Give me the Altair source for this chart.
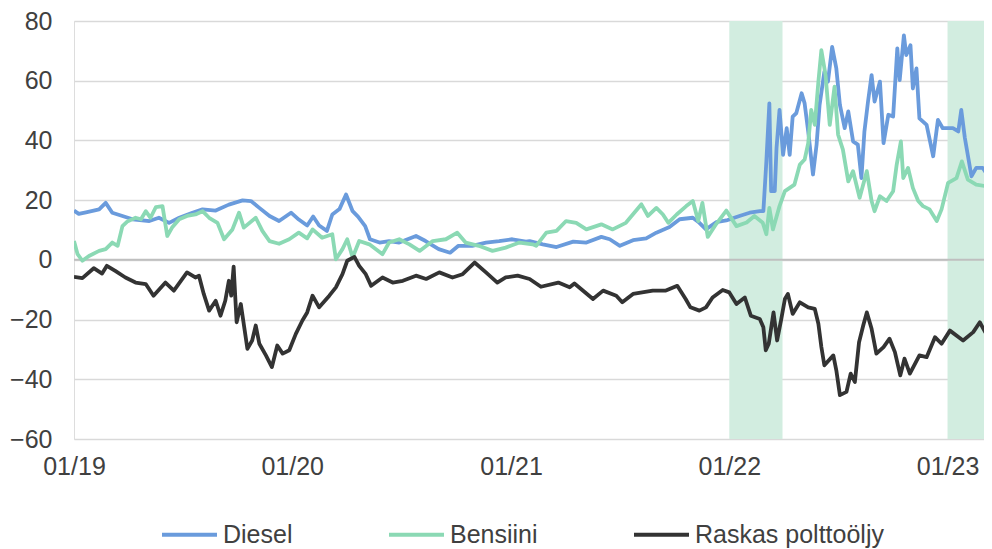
import altair as alt
import pandas as pd

# ---------------- data ----------------
diesel_dates = [
    "2019-01-01", "2019-01-09", "2019-01-21", "2019-02-12", "2019-02-23", "2019-03-06", "2019-03-23",
    "2019-04-09", "2019-05-07", "2019-05-23", "2019-06-09", "2019-06-26", "2019-07-18", "2019-08-04",
    "2019-08-26", "2019-09-17", "2019-10-10", "2019-10-24", "2019-11-07", "2019-11-24", "2019-12-10",
    "2019-12-30", "2020-01-12", "2020-01-26", "2020-02-05", "2020-02-15", "2020-02-28", "2020-03-08",
    "2020-03-20", "2020-03-31", "2020-04-11", "2020-04-20", "2020-05-02", "2020-05-10", "2020-05-26",
    "2020-06-11", "2020-06-28", "2020-07-26", "2020-08-11", "2020-09-02", "2020-09-21", "2020-10-05",
    "2020-10-28", "2020-11-20", "2020-12-12", "2021-01-03", "2021-01-26", "2021-02-01", "2021-02-23",
    "2021-03-18", "2021-04-15", "2021-05-07", "2021-06-01", "2021-06-15", "2021-07-02", "2021-07-24",
    "2021-08-15", "2021-09-01", "2021-09-23", "2021-10-10", "2021-11-01", "2021-11-12", "2021-11-23",
    "2021-12-10", "2021-12-27", "2022-01-18", "2022-02-04", "2022-02-21", "2022-02-27", "2022-03-04",
    "2022-03-09", "2022-03-12", "2022-03-18", "2022-03-21", "2022-03-26", "2022-04-01", "2022-04-07",
    "2022-04-12", "2022-04-17", "2022-04-23", "2022-05-02", "2022-05-07", "2022-05-13", "2022-05-21",
    "2022-05-27", "2022-06-01", "2022-06-09", "2022-06-15", "2022-06-22", "2022-06-29", "2022-07-05",
    "2022-07-13", "2022-07-19", "2022-07-27", "2022-08-04", "2022-08-10", "2022-08-15", "2022-08-21",
    "2022-08-27", "2022-09-01", "2022-09-10", "2022-09-16", "2022-09-24", "2022-10-02", "2022-10-09",
    "2022-10-13", "2022-10-20", "2022-10-24", "2022-10-31", "2022-11-04", "2022-11-10", "2022-11-15",
    "2022-11-27", "2022-12-08", "2022-12-16", "2022-12-24", "2023-01-10", "2023-01-19", "2023-01-24",
    "2023-01-30", "2023-02-10", "2023-02-18", "2023-03-01", "2023-03-10", "2023-03-16",
]
diesel_values = [
    16.5, 15.4, 15.9, 16.9, 19.1, 15.8, 14.7,
    13.6, 13.0, 14.1, 12.4, 14.1, 15.8, 16.9,
    16.5, 18.5, 19.9, 19.7, 17.4, 14.7, 13.0,
    15.8, 13.5, 11.5, 14.5, 11.5, 9.7, 15.2,
    17.0, 21.9, 16.3, 14.5, 11.3, 6.9, 5.8,
    6.3, 5.8, 8.0, 6.3, 3.6, 2.4, 4.7,
    4.7, 5.8, 6.3, 6.9, 6.1, 6.3, 5.2,
    4.3, 6.1, 5.8, 7.7, 6.9, 4.7, 6.6,
    7.2, 9.1, 11.0, 13.6, 14.1, 12.4, 10.2,
    12.6, 13.2, 14.7, 15.8, 16.3, 16.3, 33.0,
    52.4, 23.0, 23.0, 37.4, 50.2, 35.2, 44.1,
    35.2, 48.0, 49.1, 55.8, 52.4, 43.0, 28.6,
    38.6, 51.9, 63.0, 59.7, 71.3, 64.1, 51.9,
    44.1, 49.7, 39.7, 38.6, 27.4, 43.0, 53.0,
    61.9, 53.0, 59.7, 39.1, 48.6, 48.0, 70.8,
    60.2, 75.2, 68.6, 71.9, 57.4, 64.1, 47.4,
    45.2, 34.7, 46.9, 44.1, 44.1, 43.0, 50.2,
    40.8, 28.0, 30.8, 30.8, 28.0, 32.0,
]

bensiini_dates = [
    "2019-01-01", "2019-01-07", "2019-01-15", "2019-01-26", "2019-02-12", "2019-02-23", "2019-03-06",
    "2019-03-15", "2019-03-23", "2019-03-31", "2019-04-14", "2019-04-23", "2019-05-01", "2019-05-09",
    "2019-05-18", "2019-05-29", "2019-06-06", "2019-06-14", "2019-06-26", "2019-07-09", "2019-07-23",
    "2019-08-04", "2019-08-15", "2019-08-29", "2019-09-09", "2019-09-23", "2019-10-04", "2019-10-12",
    "2019-11-01", "2019-11-12", "2019-11-24", "2019-12-10", "2019-12-27", "2020-01-12", "2020-01-26",
    "2020-02-04", "2020-02-20", "2020-03-08", "2020-03-14", "2020-03-25", "2020-04-02", "2020-04-11",
    "2020-04-22", "2020-05-09", "2020-05-31", "2020-06-11", "2020-06-28", "2020-07-15", "2020-08-01",
    "2020-08-23", "2020-09-14", "2020-10-03", "2020-10-17", "2020-11-08", "2020-12-01", "2020-12-23",
    "2021-01-15", "2021-02-06", "2021-02-12", "2021-03-01", "2021-03-18", "2021-04-03", "2021-04-20",
    "2021-05-07", "2021-06-01", "2021-06-20", "2021-07-12", "2021-08-07", "2021-08-18", "2021-09-01",
    "2021-09-12", "2021-09-21", "2021-10-05", "2021-10-21", "2021-11-01", "2021-11-10", "2021-11-17",
    "2021-11-26", "2021-12-10", "2021-12-27", "2022-01-13", "2022-01-30", "2022-02-12", "2022-02-26",
    "2022-03-04", "2022-03-09", "2022-03-15", "2022-03-26", "2022-04-04", "2022-04-20", "2022-04-29",
    "2022-05-07", "2022-05-13", "2022-05-18", "2022-05-24", "2022-05-30", "2022-06-04", "2022-06-11",
    "2022-06-18", "2022-06-26", "2022-07-02", "2022-07-10", "2022-07-19", "2022-07-27", "2022-08-07",
    "2022-08-19", "2022-08-27", "2022-09-01", "2022-09-10", "2022-09-21", "2022-10-02", "2022-10-08",
    "2022-10-15", "2022-10-19", "2022-10-27", "2022-11-04", "2022-11-13", "2022-11-21", "2022-12-02",
    "2022-12-14", "2022-12-22", "2023-01-02", "2023-01-16", "2023-01-25", "2023-02-04", "2023-02-18",
    "2023-03-05", "2023-03-16",
]
bensiini_values = [
    6.3, 1.9, -0.3, 1.3, 3.0, 3.6, 5.8,
    4.7, 11.3, 12.8, 14.1, 13.6, 16.3, 14.1,
    17.7, 18.0, 8.0, 10.8, 13.6, 14.7, 15.2,
    16.3, 14.1, 12.4, 6.9, 10.2, 15.8, 10.8,
    14.1, 9.7, 6.3, 5.4, 6.9, 9.1, 7.2,
    10.2, 7.4, 8.6, 0.2, 3.6, 6.9, 0.8,
    6.3, 5.2, 1.9, 5.8, 6.9, 5.2, 3.0,
    6.3, 6.9, 9.1, 5.8, 4.7, 3.0, 4.1,
    5.8, 5.2, 4.7, 9.1, 9.7, 13.0, 12.4,
    10.2, 11.9, 10.2, 12.4, 18.6, 14.7, 17.4,
    15.2, 12.4, 15.2, 18.0, 19.7, 13.0, 19.1,
    7.7, 12.0, 16.5, 11.3, 12.5, 14.7, 12.4,
    8.6, 17.4, 10.2, 18.0, 23.0, 25.2, 31.9,
    33.6, 39.1, 50.2, 45.2, 59.7, 70.2, 61.9,
    45.2, 58.0, 41.9, 36.9, 26.3, 29.7, 20.8,
    29.7, 19.7, 16.3, 21.3, 19.7, 23.0, 31.9,
    39.7, 27.4, 30.8, 24.1, 19.7, 18.0, 16.9,
    13.0, 16.9, 25.8, 27.4, 33.0, 26.9, 25.2,
    24.7, 27.4,
]

raskas_dates = [
    "2019-01-01", "2019-01-15", "2019-02-03", "2019-02-17", "2019-02-25", "2019-03-11", "2019-03-28",
    "2019-04-14", "2019-05-01", "2019-05-14", "2019-06-03", "2019-06-17", "2019-07-09", "2019-07-23",
    "2019-07-29", "2019-08-06", "2019-08-15", "2019-08-26", "2019-09-03", "2019-09-11", "2019-09-17",
    "2019-09-21", "2019-09-25", "2019-09-30", "2019-10-07", "2019-10-18", "2019-10-26", "2019-11-01",
    "2019-11-07", "2019-11-18", "2019-11-28", "2019-12-07", "2019-12-16", "2019-12-27", "2020-01-07",
    "2020-01-18", "2020-01-26", "2020-02-04", "2020-02-15", "2020-03-03", "2020-03-14", "2020-03-25",
    "2020-04-02", "2020-04-14", "2020-04-22", "2020-05-03", "2020-05-12", "2020-05-31", "2020-06-17",
    "2020-07-04", "2020-07-26", "2020-08-12", "2020-09-03", "2020-09-25", "2020-10-12", "2020-11-01",
    "2020-11-20", "2020-12-09", "2020-12-23", "2021-01-12", "2021-02-01", "2021-02-20", "2021-03-21",
    "2021-04-09", "2021-04-17", "2021-05-18", "2021-06-04", "2021-06-26", "2021-07-06", "2021-07-24",
    "2021-08-26", "2021-09-17", "2021-10-06", "2021-10-20", "2021-10-28", "2021-11-12", "2021-11-23",
    "2021-12-04", "2021-12-21", "2022-01-01", "2022-01-13", "2022-01-27", "2022-02-06", "2022-02-21",
    "2022-02-27", "2022-03-03", "2022-03-08", "2022-03-16", "2022-03-22", "2022-03-29", "2022-04-04",
    "2022-04-09", "2022-04-17", "2022-04-29", "2022-05-13", "2022-05-24", "2022-05-30", "2022-06-04",
    "2022-06-09", "2022-06-24", "2022-06-29", "2022-07-05", "2022-07-16", "2022-07-23", "2022-07-30",
    "2022-08-06", "2022-08-13", "2022-08-19", "2022-08-27", "2022-09-04", "2022-09-16", "2022-09-26",
    "2022-10-05", "2022-10-14", "2022-10-21", "2022-10-30", "2022-11-15", "2022-11-27", "2022-12-11",
    "2022-12-22", "2023-01-05", "2023-01-27", "2023-02-13", "2023-02-24", "2023-03-05", "2023-03-16",
]
raskas_values = [
    -5.7, -6.1, -2.8, -4.6, -2.0, -3.7, -5.9,
    -7.6, -8.1, -12.0, -7.6, -10.3, -4.2, -5.9,
    -5.3, -11.4, -17.0, -13.7, -18.7, -13.7, -7.0,
    -12.0, -2.3, -20.9, -14.8, -29.8, -27.0, -22.0,
    -28.1, -32.0, -35.9, -28.7, -31.4, -30.3, -24.8,
    -20.3, -17.6, -12.0, -15.9, -12.0, -9.2, -4.8,
    -0.3, 1.0, -2.0, -4.8, -8.7, -5.9, -7.6,
    -7.0, -5.3, -6.4, -4.2, -5.9, -4.8, -0.9,
    -4.2, -7.6, -5.9, -5.3, -6.4, -9.0, -7.6,
    -9.2, -7.9, -13.1, -10.3, -12.0, -14.2, -11.4,
    -10.3, -10.3, -8.7, -13.1, -15.9, -17.0, -15.9,
    -12.6, -10.1, -10.9, -14.8, -12.6, -18.7, -19.8,
    -22.6, -30.3, -28.1, -17.6, -27.0, -19.8, -13.1,
    -11.4, -18.1, -14.2, -15.9, -16.4, -21.4, -29.2,
    -35.3, -32.0, -37.0, -45.3, -44.2, -38.1, -40.9,
    -27.6, -22.0, -17.6, -23.1, -31.4, -29.2, -26.4,
    -30.9, -38.7, -33.1, -38.1, -32.0, -32.6, -25.9,
    -28.1, -23.7, -27.0, -24.2, -20.9, -24.2, -18.1,
]

series_names = ["Diesel", "Bensiini", "Raskas polttoöljy"]
series_colors = ["#6A9BDC", "#8BD9B4", "#333333"]

shade_start = ["2022-01-01", "2023-01-01"]
shade_end = ["2022-03-31", "2023-03-16"]

x_start, x_end = "2019-01-01", "2023-03-03"
y_min, y_max = -60, 80
y_ticks = [-60, -40, -20, 0, 20, 40, 60, 80]
x_tick_years = [2019, 2020, 2021, 2022, 2023]

# ---------------- build tables ----------------
frames = []
for name, d, v in [
    (series_names[0], diesel_dates, diesel_values),
    (series_names[1], bensiini_dates, bensiini_values),
    (series_names[2], raskas_dates, raskas_values),
]:
    frames.append(pd.DataFrame({"date": d, "value": v, "series": name,
                                "order": series_names.index(name)}))
lines_df = pd.concat(frames, ignore_index=True)

shade_df = pd.DataFrame({"start": shade_start, "end": shade_end,
                         "lo": [y_min] * 2, "hi": [y_max] * 2})
zero_df = pd.DataFrame({"y": [0]})

FONT = "Liberation Sans"
TEXT = "#404040"

x_scale = alt.Scale(domain=[x_start, x_end], nice=False)
y_scale = alt.Scale(domain=[y_min, y_max], nice=False)

x_axis = alt.Axis(
    values=[alt.DateTime(year=yr, month=1, date=1) for yr in x_tick_years],
    format="%m/%y", title=None, grid=False, ticks=False, domain=False,
    labelFontSize=25, labelColor=TEXT, labelFont=FONT, labelPadding=15,
    labelOverlap=False, labelFlush=False,
)
y_axis = alt.Axis(
    values=y_ticks, title=None, grid=True, gridColor="#D9D9D9", gridWidth=1.3,
    ticks=False, domain=False, labelFontSize=25, labelColor=TEXT, labelFont=FONT,
    labelPadding=22,
)

shade = alt.Chart(shade_df).mark_rect(color="#D2EDE0", clip=True).encode(
    x=alt.X("start:T", scale=x_scale, axis=x_axis),
    x2="end:T",
    y=alt.Y("lo:Q", scale=y_scale, axis=y_axis),
    y2="hi:Q",
)

zero = alt.Chart(zero_df).mark_rule(color="#BFBFBF", strokeWidth=2).encode(
    y=alt.Y("y:Q", scale=y_scale)
)

lines = alt.Chart(lines_df).mark_line(strokeWidth=3.8, strokeJoin="round", clip=True).encode(
    x=alt.X("date:T", scale=x_scale),
    y=alt.Y("value:Q", scale=y_scale),
    color=alt.Color(
        "series:N",
        scale=alt.Scale(domain=series_names, range=series_colors),
        sort=series_names,
        legend=alt.Legend(
            title=None, orient="none", direction="horizontal",
            legendX=86, legendY=484,
            symbolType="stroke", symbolSize=3025, symbolStrokeWidth=4,
            labelFontSize=25, labelFont=FONT, labelColor=TEXT, labelLimit=500,
            columnPadding=88, labelOffset=4,
        ),
    ),
    detail="series:N",
    order="order:Q",
)

chart = (
    alt.layer(shade, zero, lines)
    .properties(
        width=910, height=418,
        autosize=alt.AutoSizeParams(type="none"),
        padding={"left": 66, "top": 13, "right": 0, "bottom": 110},
    )
    .configure_view(stroke=None)
    .configure(font=FONT)
)

chart.save("out.html", embed_options={"renderer": "svg", "actions": False})
